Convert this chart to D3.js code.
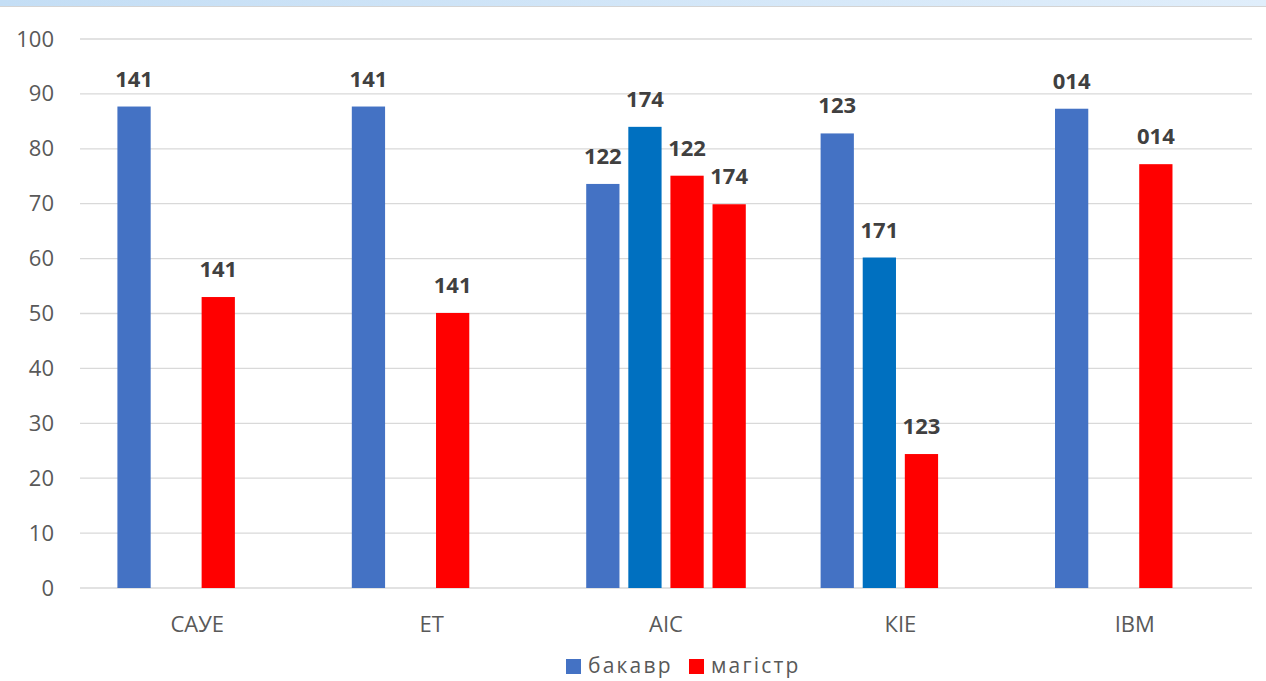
<!DOCTYPE html>
<html><head><meta charset="utf-8">
<script src="https://cdn.jsdelivr.net/npm/d3@7"></script>
<style>html,body{margin:0;padding:0;background:#fff;overflow:hidden}</style>
</head><body>
<svg id="chart" width="1266" height="681"></svg>
<script>
const categories = ["САУЕ", "ЕТ", "АІС", "КІЕ", "ІВМ"];
const seriesKeys = ["bachA", "bachB", "magA", "magB"];
const bachA = [87.7, 87.7, 73.6, 82.8, 87.3];
const bachALabels = ["141", "141", "122", "123", "014"];
const bachB = [null, null, 84.0, 60.2, null];
const bachBLabels = ["", "", "174", "171", ""];
const magA = [53.0, 50.1, 75.1, 24.4, 77.2];
const magALabels = ["141", "141", "122", "123", "014"];
const magB = [null, null, 69.9, null, null];
const magBLabels = ["", "", "174", "", ""];
const yTicks = [0, 10, 20, 30, 40, 50, 60, 70, 80, 90, 100];
const legendLabels = ["бакавр", "магістр"];

const colors = {bachA: "#4472C4", bachB: "#0070C0", magA: "#FF0000", magB: "#FF0000"};
const seriesData = {
  bachA: {v: bachA, l: bachALabels},
  bachB: {v: bachB, l: bachBLabels},
  magA: {v: magA, l: magALabels},
  magB: {v: magB, l: magBLabels}
};

const svg = d3.select("#chart");
const W = 1266, H = 681;
const mLeft = 80, mRight = 1252, mTop = 39, mBottom = 588;

// top strip
const defs = svg.append("defs");
const grad = defs.append("linearGradient").attr("id", "strip").attr("x1", "0").attr("x2", "1");
grad.append("stop").attr("offset", "0").attr("stop-color", "#c4def5");
grad.append("stop").attr("offset", "1").attr("stop-color", "#e0eefb");
svg.append("rect").attr("x", 0).attr("y", 0).attr("width", W).attr("height", 6).attr("fill", "url(#strip)");
svg.append("line").attr("x1", 0).attr("x2", W).attr("y1", 6.5).attr("y2", 6.5).attr("stroke", "#d4d4d4").attr("stroke-width", 1);

const x0 = d3.scaleBand().domain(categories).range([mLeft, mRight]).padding(0);
const x1 = d3.scaleBand().domain(seriesKeys).range([-84, 84]).paddingInner(0.21).paddingOuter(0.1);
const y = d3.scaleLinear().domain([0, 100]).range([mBottom, mTop]);

// gridlines
svg.append("g").selectAll("line").data(yTicks).join("line")
  .attr("x1", mLeft).attr("x2", mRight)
  .attr("y1", d => y(d)).attr("y2", d => y(d))
  .attr("stroke", "#d9d9d9").attr("stroke-width", 1.3);

// y axis labels
const yAxis = d3.axisLeft(y).tickValues(yTicks).tickSize(0).tickPadding(0);
const gy = svg.append("g").attr("transform", `translate(54,0)`).call(yAxis);
gy.select(".domain").remove();
gy.selectAll("text").attr("font-family", "'Open Sans', sans-serif").attr("font-size", 22).attr("fill", "#595959");

// x axis labels
const xAxis = d3.axisBottom(x0).tickSize(0).tickPadding(0);
const gx = svg.append("g").attr("transform", `translate(0,${mBottom})`).call(xAxis);
gx.select(".domain").remove();
gx.selectAll("text").attr("font-family", "'Open Sans', sans-serif").attr("font-size", 22).attr("fill", "#595959")
  .attr("dy", null).attr("y", 44);

// bars
const bw = x1.bandwidth();
seriesKeys.forEach(k => {
  const s = seriesData[k];
  const items = categories.map((c, i) => ({c, v: s.v[i], l: s.l[i]})).filter(d => d.v !== null);
  const g = svg.append("g");
  g.selectAll("rect").data(items).join("rect")
    .attr("x", d => x0(d.c) + x0.bandwidth() / 2 + x1(k))
    .attr("y", d => y(d.v))
    .attr("width", bw)
    .attr("height", d => y(0) - y(d.v))
    .attr("fill", colors[k]);
  g.selectAll("text").data(items).join("text")
    .attr("x", d => x0(d.c) + x0.bandwidth() / 2 + x1(k) + bw / 2)
    .attr("y", d => y(d.v) - 20)
    .attr("text-anchor", "middle")
    .attr("font-family", "'Open Sans', sans-serif").attr("font-weight", "bold")
    .attr("font-size", 22).attr("fill", "#404040")
    .text(d => d.l);
});

// legend
const legend = svg.append("g");
const legItems = [
  {label: legendLabels[0], color: colors.bachA, x: 566},
  {label: legendLabels[1], color: colors.magA, x: 689}
];
legItems.forEach(d => {
  legend.append("rect").attr("x", d.x).attr("y", 659).attr("width", 15).attr("height", 15).attr("fill", d.color);
  legend.append("text").attr("x", d.x + 22).attr("y", 673)
    .attr("font-family", "'Open Sans', sans-serif").attr("font-size", 21).attr("fill", "#595959")
    .attr("letter-spacing", 2.2)
    .text(d.label);
});
</script>
</body></html>
